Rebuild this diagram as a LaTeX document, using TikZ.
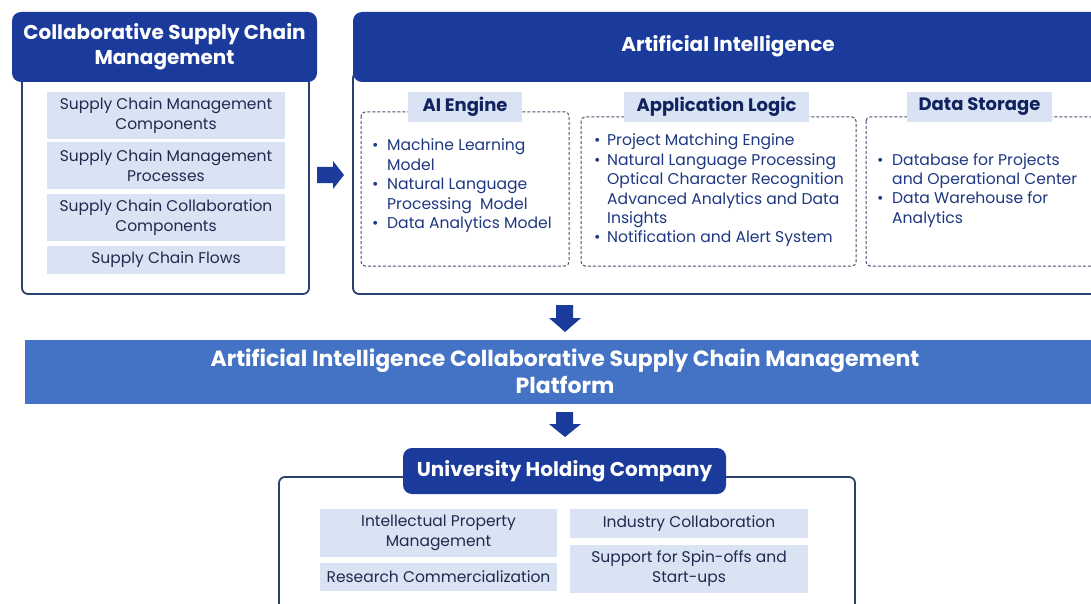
\documentclass[tikz,border=0pt]{standalone}
\usepackage{fontspec}
\setmainfont{Poppins}
\usetikzlibrary{positioning}
\definecolor{hdr}{RGB}{26,58,156}
\definecolor{bordc}{RGB}{44,64,112}
\definecolor{itemc}{RGB}{218,227,243}
\definecolor{txtc}{RGB}{30,42,78}
\definecolor{listc}{RGB}{30,56,130}
\definecolor{dashc}{RGB}{70,80,110}
\definecolor{platc}{RGB}{68,114,196}
\tikzset{
  hdrbox/.style={fill=hdr, rounded corners=9pt, inner sep=0pt},
  hdrtext/.style={text=white, font=\fontsize{20}{25}\selectfont\bfseries, align=center, inner sep=0pt},
  outerbox/.style={draw=bordc, line width=1.8pt, rounded corners=6pt, fill=white},
  itembox/.style={fill=itemc, inner sep=0pt, text=txtc, align=center, font=\fontsize{15.5}{20}\selectfont},
  dashbox/.style={draw=dashc, dash pattern=on 3pt off 2pt, line width=1pt, rounded corners=4pt},
  lblbox/.style={fill=itemc, inner sep=0pt, text=hdr!60!black, font=\fontsize{18}{22}\selectfont\bfseries},
  listtext/.style={text=listc, inner sep=0pt, anchor=base west, font=\fontsize{15.6}{19.4}\selectfont},
  blockarrow/.style={fill=hdr}
}
\begin{document}
\begin{tikzpicture}[x=1pt,y=-1pt]
\useasboundingbox (0,0) rectangle (1091,604);
\fill[white] (0,0) rectangle (1091,604);

% ---------- Left panel ----------
\draw[outerbox] (22,72) rectangle (309,294);
\node[hdrbox, minimum width=305, minimum height=70] (csmh) at (164.5,47) {};
\node[hdrtext] (csmt) at (csmh) {Collaborative Supply Chain\\Management};
\node[itembox, minimum width=238, minimum height=47] (i1) at (166,115.5) {Supply Chain Management\\Components};
\node[itembox, minimum width=238, minimum height=47] (i2) at (166,165.5) {Supply Chain Management\\Processes};
\node[itembox, minimum width=238, minimum height=47] (i3) at (166,217.5) {Supply Chain Collaboration\\Components};
\node[itembox, minimum width=238, minimum height=28] (i4) at (166,259.5) {Supply Chain Flows};

% right arrow
\fill[blockarrow] (317,167) -- (333,167) -- (333,161) -- (344,175) -- (333,189) -- (333,183) -- (317,183) -- cycle;

% ---------- AI panel ----------
\draw[outerbox] (353,72) rectangle (1110,294);
\node[hdrbox, minimum width=760, minimum height=70] (aih) at (733,47) {};
\node[hdrtext] (ait) at (728,46) {Artificial Intelligence};

\draw[dashbox] (361,112) rectangle (569,266);
\draw[dashbox] (581,117) rectangle (856,266);
\draw[dashbox] (866,117) rectangle (1110,266);
\node[lblbox, minimum width=114, minimum height=30] (l1) at (465,107) {AI Engine};
\node[lblbox, minimum width=185, minimum height=30] (l2) at (716.5,107) {Application Logic};
\node[lblbox, minimum width=145, minimum height=30] (l3) at (979.5,107) {Data Storage};

\node[listtext] (list1) at (372,151) {\begin{tabular}[t]{@{}p{15pt}@{}l@{}}
\textbullet & Machine Learning\\
 & Model\\
\textbullet & Natural Language\\
 & Processing\ \ Model\\
\textbullet & Data Analytics Model
\end{tabular}};
\node[listtext] (list2) at (594,146) {\begin{tabular}[t]{@{}p{13pt}@{}l@{}}
\textbullet & Project Matching Engine\\
\textbullet & Natural Language Processing\\
 & Optical Character Recognition\\
 & Advanced Analytics and Data\\
 & Insights\\
\textbullet & Notification and Alert System
\end{tabular}};
\node[listtext] (list3) at (877,165) {\begin{tabular}[t]{@{}p{15pt}@{}l@{}}
\textbullet & Database for Projects\\
 & and Operational Center\\
\textbullet & Data Warehouse for\\
 & Analytics
\end{tabular}};

% down arrow 1
\fill[blockarrow] (556,305) -- (573,305) -- (573,318) -- (581,318) -- (565,332) -- (549,318) -- (556,318) -- cycle;

% ---------- Platform ----------
\node[fill=platc, minimum width=1080, minimum height=64, inner sep=0pt, anchor=north west] (plat) at (25,340) {};
\node[hdrtext, font=\fontsize{22}{27}\selectfont\bfseries] (platt) at (565,371) {Artificial Intelligence Collaborative Supply Chain Management\\Platform};

% down arrow 2
\fill[blockarrow] (556,412) -- (573,412) -- (573,424) -- (581,424) -- (565,437) -- (549,424) -- (556,424) -- cycle;

% ---------- University ----------
\draw[outerbox] (279,477) rectangle (855,620);
\node[hdrbox, minimum width=323, minimum height=46] (uh) at (564.5,471) {};
\node[hdrtext] (ut) at (uh) {University Holding Company};
\node[itembox, minimum width=237, minimum height=48] (u1) at (438.5,533) {Intellectual Property\\Management};
\node[itembox, minimum width=237, minimum height=28] (u2) at (438.5,577) {Research Commercialization};
\node[itembox, minimum width=238, minimum height=29] (u3) at (689,523.5) {Industry Collaboration};
\node[itembox, minimum width=238, minimum height=48] (u4) at (689,569) {Support for Spin-offs and\\Start-ups};
\end{tikzpicture}
\end{document}
